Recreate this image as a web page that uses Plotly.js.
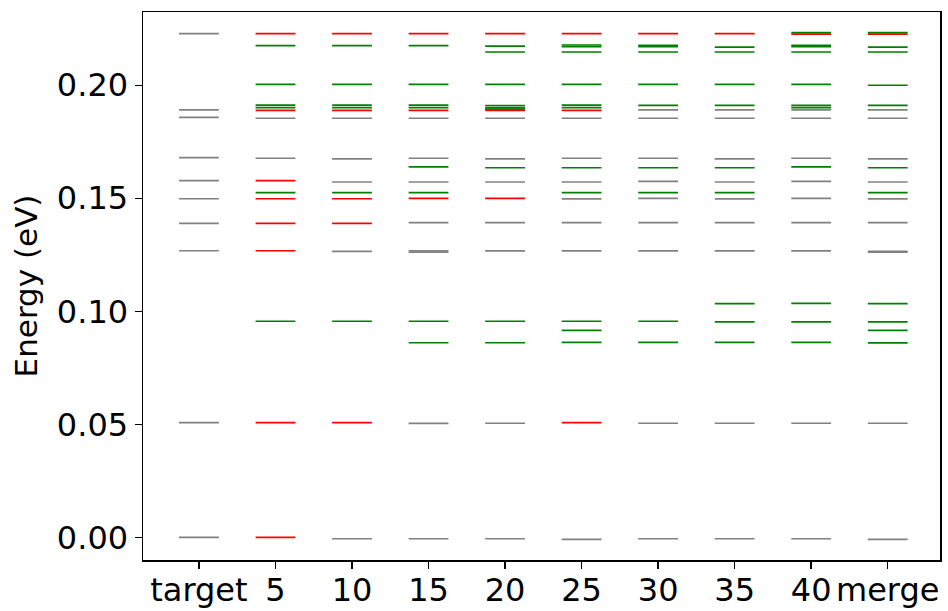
<!DOCTYPE html>
<html>
<head>
<meta charset="utf-8">
<script src="https://cdn.plot.ly/plotly-3.0.1.min.js"></script>
<style>html,body{margin:0;padding:0;background:#fff;}#chart{width:948px;height:611px;}</style>
</head>
<body>
<div id="chart"></div>
<script>
const categories = ["target", "5", "10", "15", "20", "25", "30", "35", "40", "merge"];

// Energy levels (eV) per category, split by colour
const grayLevels = [
  [0.2228, 0.1891, 0.1858, 0.1680, 0.1578, 0.1498, 0.1389, 0.1268, 0.0508, 0.0000],
  [0.1854, 0.1677],
  [0.1854, 0.1674, 0.1572, 0.1265, -0.0006],
  [0.1854, 0.1677, 0.1572, 0.1392, 0.1268, 0.1262, 0.0504, -0.0006],
  [0.1854, 0.1674, 0.1572, 0.1392, 0.1267, 0.0505, -0.0006],
  [0.1854, 0.1677, 0.1572, 0.1497, 0.1392, 0.1267, -0.0009],
  [0.1891, 0.1854, 0.1677, 0.1575, 0.1500, 0.1392, 0.1267, 0.0505, -0.0006],
  [0.1891, 0.1854, 0.1674, 0.1572, 0.1497, 0.1392, 0.1267, 0.0505, -0.0006],
  [0.1891, 0.1854, 0.1677, 0.1575, 0.1500, 0.1392, 0.1267, 0.0505, -0.0006],
  [0.1891, 0.1854, 0.1674, 0.1572, 0.1497, 0.1392, 0.1265, 0.1262, 0.0505, -0.0009]
];
const redLevels = [
  [],
  [0.2228, 0.1889, 0.1578, 0.1498, 0.1389, 0.1268, 0.0508, 0.0000],
  [0.2228, 0.1889, 0.1498, 0.1389, 0.0508],
  [0.2228, 0.1889, 0.1500],
  [0.2228, 0.1889, 0.1500],
  [0.2228, 0.1889, 0.0508],
  [0.2228],
  [0.2228],
  [0.2226],
  [0.2226]
];
const greenLevels = [
  [],
  [0.2175, 0.2004, 0.1912, 0.1901, 0.1525, 0.0956],
  [0.2175, 0.2004, 0.1912, 0.1901, 0.1525, 0.0956],
  [0.2175, 0.2004, 0.1912, 0.1901, 0.1639, 0.1525, 0.0956, 0.0861],
  [0.2173, 0.2147, 0.2004, 0.1910, 0.1900, 0.1894, 0.1635, 0.0956, 0.0861],
  [0.2178, 0.2171, 0.2147, 0.2004, 0.1912, 0.1901, 0.1635, 0.1525, 0.0956, 0.0916, 0.0863],
  [0.2177, 0.2171, 0.2147, 0.2004, 0.1911, 0.1635, 0.1525, 0.0956, 0.0863],
  [0.2169, 0.2147, 0.2004, 0.1911, 0.1635, 0.1525, 0.1034, 0.0953, 0.0863],
  [0.2233, 0.2177, 0.2171, 0.2147, 0.2004, 0.1911, 0.1901, 0.1639, 0.1035, 0.0953, 0.0863],
  [0.2233, 0.2169, 0.2147, 0.2000, 0.1911, 0.1635, 0.1525, 0.1034, 0.0953, 0.0916, 0.0860]
];
const yTicks = [0.00, 0.05, 0.10, 0.15, 0.20];

const HALF = 0.26;
function segTrace(levels, color) {
  const xs = [], ys = [];
  levels.forEach((lv, i) => {
    lv.forEach(e => {
      xs.push(i - HALF, i + HALF, null);
      ys.push(e, e, null);
    });
  });
  return {x: xs, y: ys, type: "scatter", mode: "lines",
          line: {color: color, width: 1.7}, hoverinfo: "skip", showlegend: false};
}

const data = [
  segTrace(grayLevels, "#808080"),
  segTrace(redLevels, "#ff0000"),
  segTrace(greenLevels, "#008000")
];

const font = {family: "DejaVu Sans, sans-serif", size: 32, color: "#000"};
const layout = {
  width: 948, height: 611,
  margin: {l: 143, r: 8, t: 12, b: 51, pad: 0},
  paper_bgcolor: "#fff", plot_bgcolor: "#fff",
  font: font,
  showlegend: false,
  xaxis: {
    range: [-0.731, 9.683],
    tickmode: "array",
    tickvals: categories.map((c, i) => i),
    ticktext: categories,
    showgrid: false, zeroline: false,
    showline: true, mirror: true, linecolor: "#000", linewidth: 1.5,
    ticks: "outside", ticklen: 7, tickwidth: 1.5, tickcolor: "#000",
    ticklabelstandoff: -6,
    tickfont: font
  },
  yaxis: {
    range: [-0.0100, 0.2324],
    tickmode: "array",
    tickvals: yTicks,
    ticktext: yTicks.map(v => v.toFixed(2)),
    showgrid: false, zeroline: false,
    showline: true, mirror: true, linecolor: "#000", linewidth: 1.5,
    ticks: "outside", ticklen: 7, tickwidth: 1.5, tickcolor: "#000",
    tickfont: font,
    title: {text: "Energy (eV)", font: {family: "DejaVu Sans, sans-serif", size: 31, color: "#000"}, standoff: 10}
  }
};

Plotly.newPlot("chart", data, layout, {staticPlot: true, displayModeBar: false});
</script>
</body>
</html>
